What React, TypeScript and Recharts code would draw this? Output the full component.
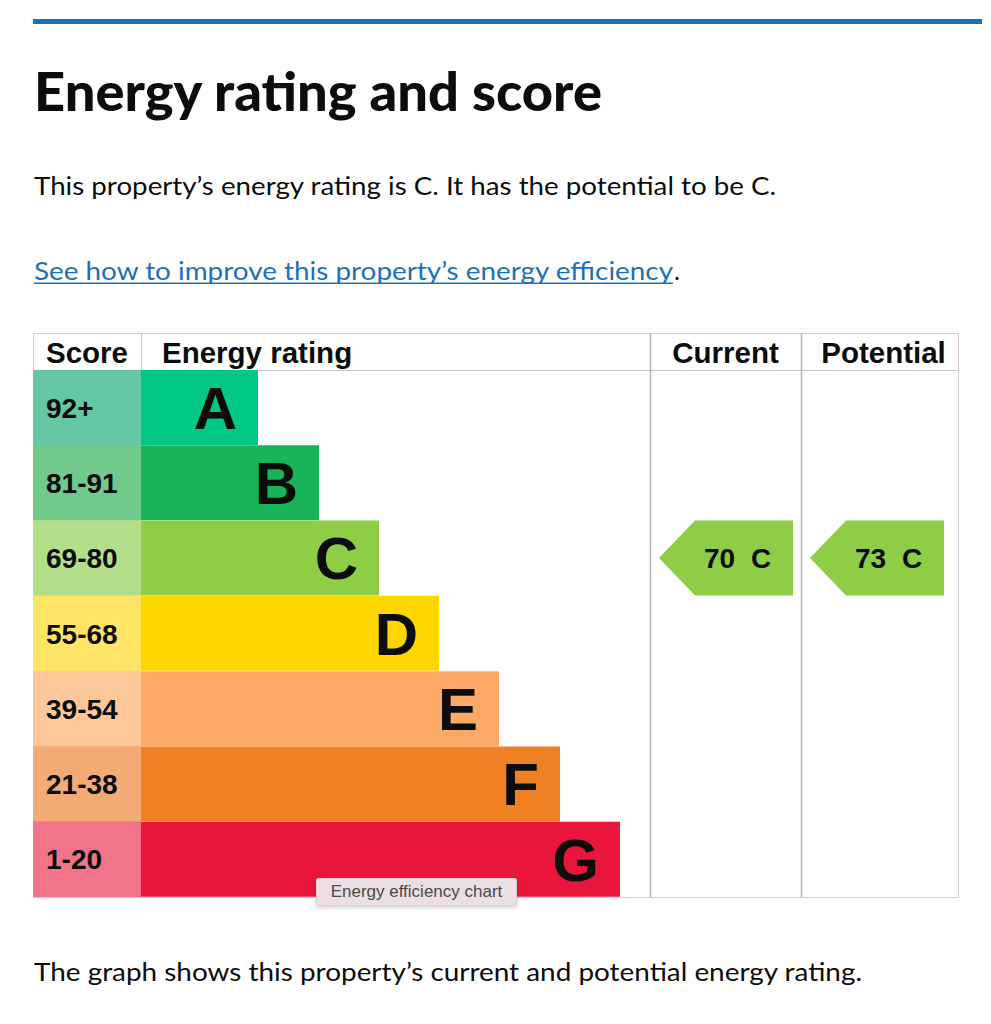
import React from "react";
import { BarChart, Bar, XAxis, YAxis, LabelList, Cell } from "recharts";

// ---- data ----
const bands = ["A", "B", "C", "D", "E", "F", "G"];
const scoreRanges = ["92+", "81-91", "69-80", "55-68", "39-54", "21-38", "1-20"];
const barLengths = [117, 178, 238, 298, 358, 419, 479];
const ratingScaleMax = 509;
const bandColors = ["#00c882", "#19b45a", "#8dce46", "#ffd500", "#fcaa65", "#ef8023", "#e9153b"];
const scoreColors = ["#64c8a4", "#72c98c", "#b3df89", "#ffe466", "#fdc79a", "#f3ab73", "#f2748a"];
const currentBand = "C";
const currentScore = 70;
const potentialBand = "C";
const potentialScore = 73;
const columnHeaders = ["Score", "Energy rating", "Current", "Potential"];

const rows = bands.map((b, i) => ({
  band: b,
  range: scoreRanges[i],
  length: barLengths[i],
  current: b === currentBand ? currentScore : null,
  potential: b === potentialBand ? potentialScore : null,
}));

const CHART_FONT = "'Liberation Sans', Arial, sans-serif";
const PAGE_FONT = "Lato, 'Noto Sans', sans-serif";
const INK = "#0b0c0c";
const ROWS_H = 527;
const BAND_H = ROWS_H / bands.length;

const ScoreTick = (props: any) => {
  const { y, payload } = props;
  const i = scoreRanges.indexOf(payload.value);
  return (
    <g>
      <rect x={0} y={y - BAND_H / 2 - 0.3} width={108} height={BAND_H + 0.6} fill={scoreColors[i]} />
      <text x={13} y={y + 10} fill={INK} fontSize={28} fontWeight={700} fontFamily={CHART_FONT}>
        {payload.value}
      </text>
    </g>
  );
};

const makeArrow = (key: "current" | "potential") => (props: any) => {
  const { x, y, height, payload } = props;
  const v = payload ? payload[key] : null;
  if (v === null || v === undefined) return null;
  const i = bands.indexOf(payload.band);
  const h = height;
  const pts = [
    [x + 9, y + h / 2],
    [x + 45, y],
    [x + 143, y],
    [x + 143, y + h],
    [x + 45, y + h],
  ]
    .map((p) => p.join(","))
    .join(" ");
  return (
    <g>
      <polygon points={pts} fill={bandColors[i]} />
      <text x={x + 54} y={y + h / 2 + 10} fill={INK} fontSize={28} fontWeight={700} fontFamily={CHART_FONT}>
        {v}
      </text>
      <text x={x + 101} y={y + h / 2 + 10} fill={INK} fontSize={28} fontWeight={700} fontFamily={CHART_FONT}>
        {payload.band}
      </text>
    </g>
  );
};

const ColumnChart = ({ dataKey, width }: { dataKey: "current" | "potential"; width: number }) => (
  <BarChart
    layout="vertical"
    width={width}
    height={ROWS_H}
    data={rows}
    margin={{ top: 0, right: 0, bottom: 0, left: 0 }}
    barCategoryGap={0}
  >
    <XAxis type="number" hide domain={[0, 100]} />
    <YAxis type="category" dataKey="band" hide />
    <Bar dataKey={dataKey} isAnimationActive={false} shape={makeArrow(dataKey)} />
  </BarChart>
);

export default function App() {
  return (
    <div style={{ position: "absolute", left: 0, top: 0, width: 991, height: 1024, background: "#fff" }}>
      <svg width={991} height={1024} style={{ position: "absolute", left: 0, top: 0 }}>
        <rect x={33} y={19} width={949} height={5} fill="#1d70b8" />
        <text x={34} y={110.5} fontFamily={PAGE_FONT} fontWeight={900} fontSize={53} fill={INK} textLength={568} lengthAdjust="spacingAndGlyphs">
          Energy rating and score
        </text>
        <text x={34} y={195} fontFamily={PAGE_FONT} fontSize={25.5} fill={INK} textLength={742} lengthAdjust="spacingAndGlyphs">
          This property’s energy rating is C. It has the potential to be C.
        </text>
        <text x={34} y={280} fontFamily={PAGE_FONT} fontSize={25.5} fill="#1d70b8" textLength={639} lengthAdjust="spacingAndGlyphs">
          See how to improve this property’s energy efficiency
        </text>
        <rect x={34} y={282.5} width={639} height={1.5} fill="#1d70b8" />
        <text x={674} y={280} fontFamily={PAGE_FONT} fontSize={25.5} fill={INK}>
          .
        </text>
        <text x={34} y={981} fontFamily={PAGE_FONT} fontSize={25.5} fill={INK} textLength={828} lengthAdjust="spacingAndGlyphs">
          The graph shows this property’s current and potential energy rating.
        </text>

        {/* table frame */}
        <rect x={33.5} y={333.5} width={925} height={564} fill="none" stroke="#d0d0d0" strokeWidth={1} />
        <line x1={33} y1={370.5} x2={959} y2={370.5} stroke="#c8c8c8" strokeWidth={1} />
        <line x1={141.5} y1={333} x2={141.5} y2={370} stroke="#c8c8c8" strokeWidth={1} />
        <line x1={650.5} y1={333} x2={650.5} y2={897} stroke="#b5b5b5" strokeWidth={1.5} />
        <line x1={801.5} y1={333} x2={801.5} y2={897} stroke="#b5b5b5" strokeWidth={1.5} />

        <text x={46} y={363} fontFamily={CHART_FONT} fontWeight={700} fontSize={29.5} fill={INK}>
          {columnHeaders[0]}
        </text>
        <text x={162} y={363} fontFamily={CHART_FONT} fontWeight={700} fontSize={29.5} fill={INK}>
          {columnHeaders[1]}
        </text>
        <text x={725.5} y={363} textAnchor="middle" fontFamily={CHART_FONT} fontWeight={700} fontSize={29.5} fill={INK}>
          {columnHeaders[2]}
        </text>
        <text x={883.5} y={363} textAnchor="middle" fontFamily={CHART_FONT} fontWeight={700} fontSize={29.5} fill={INK}>
          {columnHeaders[3]}
        </text>
      </svg>

      <div style={{ position: "absolute", left: 33, top: 370 }}>
        <BarChart
          layout="vertical"
          width={617}
          height={ROWS_H}
          data={rows}
          margin={{ top: 0, right: 0, bottom: 0, left: 0 }}
          barCategoryGap={0}
        >
          <XAxis type="number" hide domain={[0, ratingScaleMax]} />
          <YAxis
            type="category"
            dataKey="range"
            width={108}
            axisLine={false}
            tickLine={false}
            interval={0}
            tick={(p: any) => <ScoreTick {...p} />}
          />
          <Bar dataKey="length" isAnimationActive={false}>
            {rows.map((r, i) => (
              <Cell key={r.band} fill={bandColors[i]} />
            ))}
            <LabelList
              dataKey="band"
              position="insideRight"
              offset={21}
              fill={INK}
              fontSize={60}
              fontWeight={700}
              fontFamily={CHART_FONT}
            />
          </Bar>
        </BarChart>
      </div>

      <div style={{ position: "absolute", left: 650, top: 370 }}>
        <ColumnChart dataKey="current" width={151} />
      </div>
      <div style={{ position: "absolute", left: 801, top: 370 }}>
        <ColumnChart dataKey="potential" width={158} />
      </div>

      <div
        style={{
          position: "absolute",
          left: 316,
          top: 878,
          width: 201,
          height: 28,
          boxSizing: "border-box",
          background: "#ebdfe3",
          border: "1px solid #dccfd4",
          borderRadius: 2,
          boxShadow: "0 2px 5px rgba(0,0,0,0.18)",
          fontFamily: CHART_FONT,
          fontSize: 17,
          color: "#4a4a4a",
          lineHeight: "26px",
          textAlign: "center",
          whiteSpace: "nowrap",
        }}
      >
        Energy efficiency chart
      </div>
    </div>
  );
}
